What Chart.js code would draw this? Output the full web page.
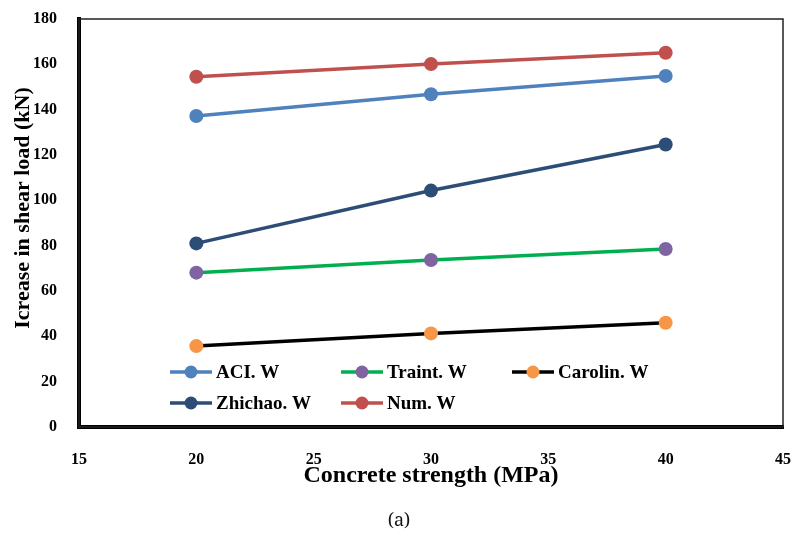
<!DOCTYPE html>
<html>
<head>
<meta charset="utf-8">
<script src="https://cdn.jsdelivr.net/npm/chart.js@4"></script>
<style>
  html, body { margin: 0; padding: 0; background: #fff; }
  #wrap { width: 797px; height: 534px; position: relative; }
</style>
</head>
<body>
<div id="wrap"><canvas id="c" width="797" height="534"></canvas></div>
<script>
// Concrete strength (MPa)
const strength = [20, 30, 40];

// Increase in shear load (kN) per method
const aciW     = [137.2, 146.8, 154.9];
const traintW  = [68.1, 73.7, 78.5];
const carolinW = [35.7, 41.3, 46.0];
const zhichaoW = [81.0, 104.3, 124.6];
const numW     = [154.5, 160.1, 165.1];

const seriesNames = ['ACI. W', 'Traint. W', 'Carolin. W', 'Zhichao. W', 'Num. W'];
const xTicks = [15, 20, 25, 30, 35, 40, 45];
const yTicks = [0, 20, 40, 60, 80, 100, 120, 140, 160, 180];

const yTitle = 'Icrease in shear load (kN)';
const xTitle = 'Concrete strength (MPa)';
const caption = '(a)';

const SERIF = '"Liberation Serif", "Times New Roman", serif';

function pts(vals) {
  return strength.map((x, i) => ({ x: x, y: vals[i] }));
}

function series(label, vals, lineColor, markColor) {
  return {
    label: label,
    data: pts(vals),
    borderColor: lineColor,
    backgroundColor: markColor,
    pointBackgroundColor: markColor,
    pointBorderColor: markColor,
    pointBorderWidth: 0,
    pointRadius: 7,
    pointHoverRadius: 7,
    borderWidth: 3.5,
    tension: 0,
    fill: false
  };
}

const datasets = [
  series(seriesNames[0], aciW, '#4F81BD', '#4F81BD'),
  series(seriesNames[1], traintW, '#00B050', '#8064A2'),
  series(seriesNames[2], carolinW, '#000000', '#F79646'),
  series(seriesNames[3], zhichaoW, '#2C4D75', '#2C4D75'),
  series(seriesNames[4], numW, '#C0504D', '#C0504D')
];

// Thin frame on top/right of the plot area
const framePlugin = {
  id: 'frame',
  beforeDatasetsDraw(chart) {
    const { ctx, chartArea: a } = chart;
    ctx.save();
    ctx.strokeStyle = '#222';
    ctx.lineWidth = 1.5;
    ctx.strokeRect(a.left, a.top, a.right - a.left, a.bottom - a.top);
    ctx.restore();
  }
};

// Legend drawn inside the plot area in two rows
const innerLegend = {
  id: 'innerLegend',
  afterDatasetsDraw(chart) {
    const { ctx, chartArea: a } = chart;
    const ds = chart.data.datasets;
    const slots = [
      { i: 0, dx: 91,  y: 372 },
      { i: 1, dx: 262, y: 372 },
      { i: 2, dx: 433, y: 372 },
      { i: 3, dx: 91,  y: 403 },
      { i: 4, dx: 262, y: 403 }
    ];
    ctx.save();
    ctx.font = 'bold 19px ' + SERIF;
    ctx.textBaseline = 'middle';
    ctx.textAlign = 'left';
    slots.forEach(s => {
      const d = ds[s.i];
      const x0 = a.left + s.dx;
      ctx.strokeStyle = d.borderColor;
      ctx.lineWidth = 3.5;
      ctx.beginPath();
      ctx.moveTo(x0, s.y);
      ctx.lineTo(x0 + 42, s.y);
      ctx.stroke();
      ctx.fillStyle = d.pointBackgroundColor;
      ctx.beginPath();
      ctx.arc(x0 + 21, s.y, 6.5, 0, Math.PI * 2);
      ctx.fill();
      ctx.fillStyle = '#000';
      ctx.fillText(d.label, x0 + 46, s.y + 1);
    });
    ctx.restore();
  }
};

// Y-axis title and figure caption
const textPlugin = {
  id: 'texts',
  afterDraw(chart) {
    const { ctx } = chart;
    ctx.save();
    ctx.fillStyle = '#000';
    ctx.font = 'bold 22px ' + SERIF;
    ctx.textAlign = 'center';
    ctx.textBaseline = 'middle';
    ctx.translate(23, 208);
    ctx.rotate(-Math.PI / 2);
    ctx.fillText(yTitle, 0, 0);
    ctx.restore();

    ctx.save();
    ctx.fillStyle = '#111';
    ctx.font = '18px "Noto Serif", "DejaVu Serif", serif';
    ctx.textAlign = 'center';
    ctx.textBaseline = 'middle';
    ctx.fillText(caption, 399, 521);
    ctx.restore();
  }
};

new Chart(document.getElementById('c'), {
  type: 'line',
  data: { datasets: datasets },
  plugins: [framePlugin, innerLegend, textPlugin],
  options: {
    responsive: false,
    animation: false,
    devicePixelRatio: 1,
    layout: { padding: { left: 0, top: 19, right: 14, bottom: 27 } },
    plugins: {
      legend: { display: false },
      tooltip: { enabled: false },
      title: { display: false }
    },
    scales: {
      x: {
        type: 'linear',
        min: 15,
        max: 45,
        afterFit(scale) {
          scale.height = 80;
          scale.paddingLeft = 0;
          scale.paddingRight = 0;
        },
        afterBuildTicks(scale) { scale.ticks = xTicks.map(v => ({ value: v })); },
        grid: { display: false, drawTicks: false },
        border: { display: true, color: '#000', width: 4 },
        ticks: {
          padding: 23,
          color: '#000',
          font: { family: SERIF, size: 16, weight: 'bold' }
        },
        title: {
          display: true,
          text: xTitle,
          color: '#000',
          font: { family: SERIF, size: 24, weight: 'bold' },
          padding: { top: 0, bottom: 17 }
        }
      },
      y: {
        type: 'linear',
        min: 0,
        max: 180,
        afterFit(scale) {
          scale.width = 79;
          scale.paddingTop = 0;
          scale.paddingBottom = 0;
        },
        afterBuildTicks(scale) { scale.ticks = yTicks.map(v => ({ value: v })); },
        grid: { display: false, drawTicks: false },
        border: { display: true, color: '#000', width: 4 },
        ticks: {
          padding: 22,
          color: '#000',
          font: { family: SERIF, size: 16, weight: 'bold' }
        }
      }
    }
  }
});
</script>
</body>
</html>
